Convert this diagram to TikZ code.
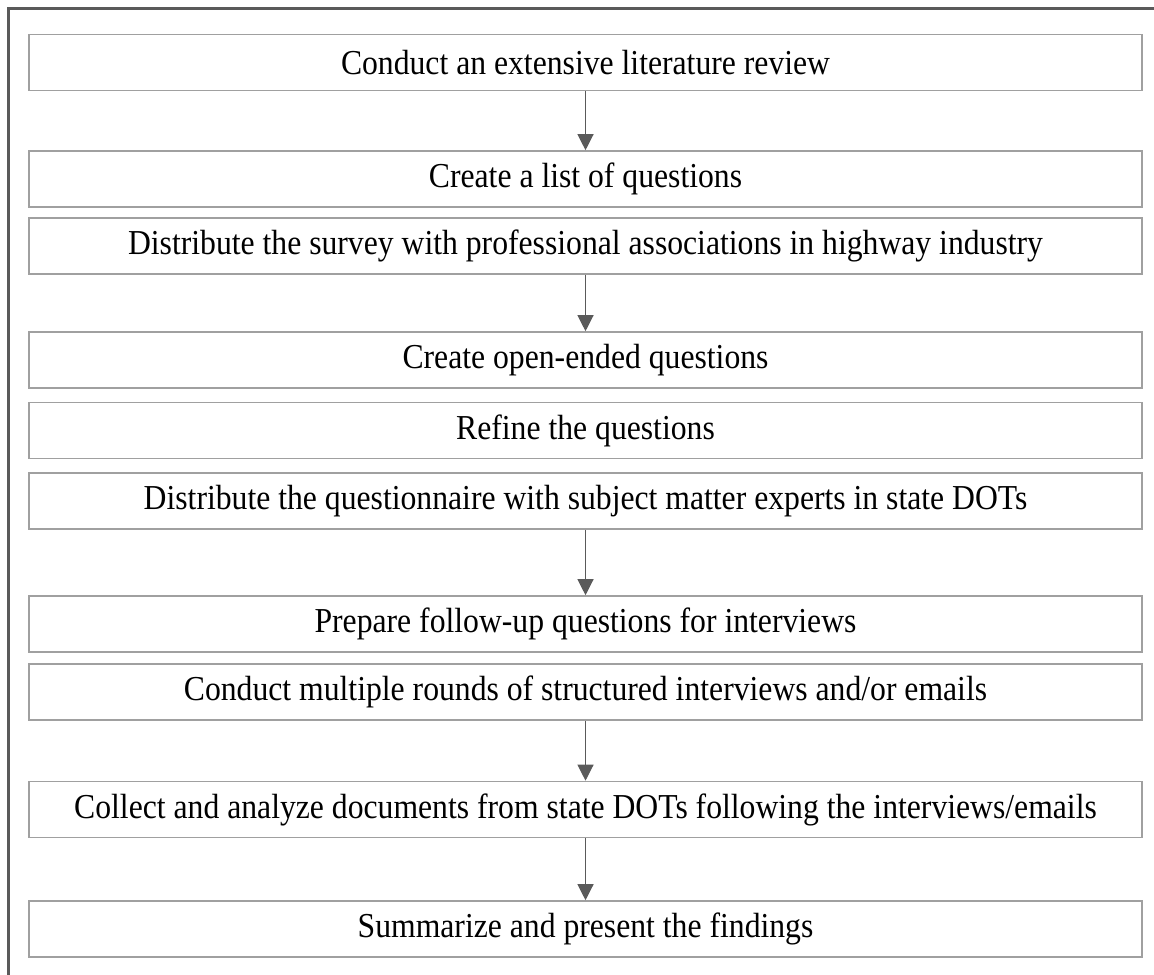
\documentclass[tikz,border=0pt]{standalone}
\usepackage{fontspec}
\setmainfont{Liberation Serif}[FakeStretch=0.905]
\usetikzlibrary{arrows.meta}
\definecolor{boxline}{HTML}{A0A0A0}
\definecolor{arrline}{HTML}{5A5A5A}
\definecolor{frameline}{HTML}{5A5A5A}
\tikzset{
  stepbox/.style={draw=boxline, line width=0.8pt, minimum width=556.5pt, minimum height=28pt, inner sep=0pt, font=\fontsize{17.5}{20}\selectfont, text=black},
  flowarrow/.style={draw=arrline, line width=0.6pt, -{Triangle[length=8pt,width=8pt]}, shorten >=0pt}
}
\begin{document}
\begin{tikzpicture}[x=0.5pt,y=-0.5pt]
\useasboundingbox (0,0) rectangle (1154,974);
\draw[frameline, line width=1.3pt] (8.5,980) -- (8.5,8.5) -- (1160,8.5);
\node[stepbox] (b1) at (585.5,62.5) {Conduct an extensive literature review};
\node[stepbox] (b2) at (585.5,179) {Create a list of questions};
\node[stepbox] (b3) at (585.5,246) {Distribute the survey with professional associations in highway industry};
\node[stepbox] (b4) at (585.5,360) {Create open-ended questions};
\node[stepbox] (b5) at (585.5,430.5) {Refine the questions};
\node[stepbox] (b6) at (585.5,501) {Distribute the questionnaire with subject matter experts in state DOTs};
\node[stepbox] (b7) at (585.5,624) {Prepare follow-up questions for interviews};
\node[stepbox] (b8) at (585.5,692) {Conduct multiple rounds of structured interviews and/or emails};
\node[stepbox] (b9) at (585.5,809.5) {Collect and analyze documents from state DOTs following the interviews/emails};
\node[stepbox] (b10) at (585.5,929) {Summarize and present the findings};
\draw[flowarrow] (b1.south) -- (b2.north);
\draw[flowarrow] (b3.south) -- (b4.north);
\draw[flowarrow] (b6.south) -- (b7.north);
\draw[flowarrow] (b8.south) -- (b9.north);
\draw[flowarrow] (b9.south) -- (b10.north);
\end{tikzpicture}
\end{document}
